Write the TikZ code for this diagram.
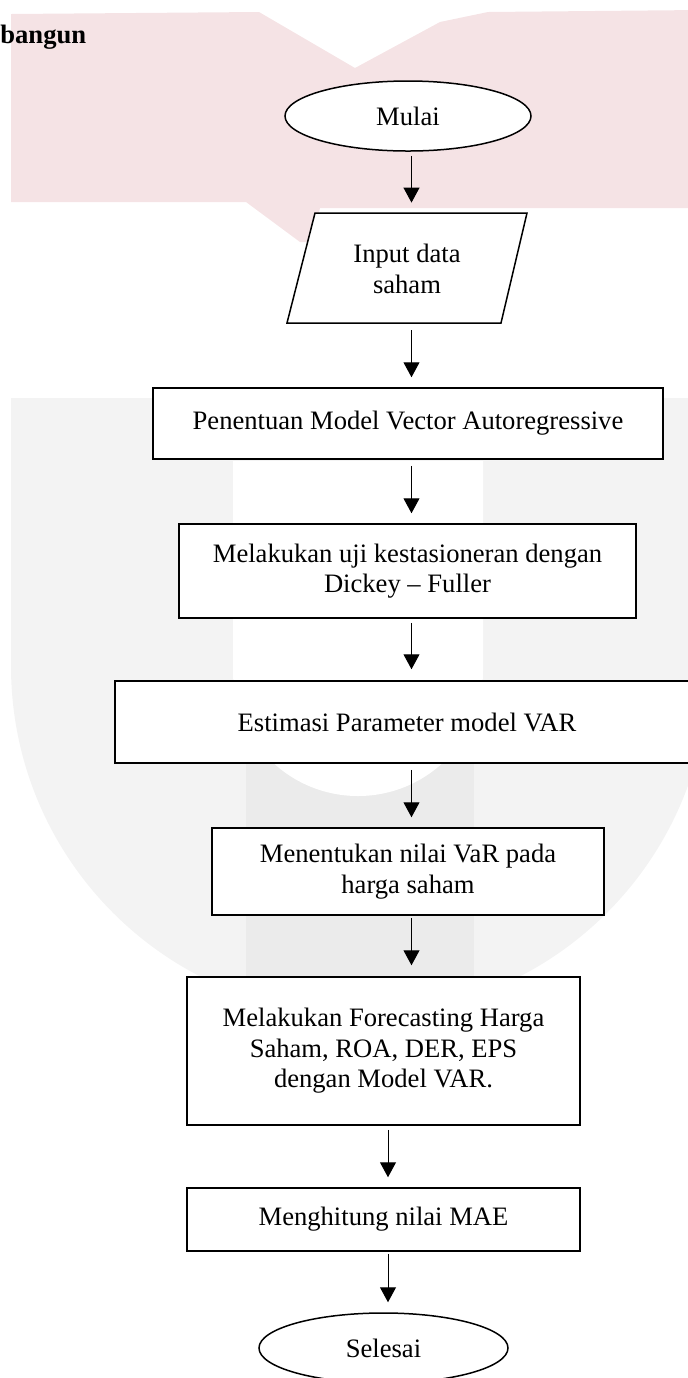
\documentclass[tikz,border=0pt]{standalone}
\usepackage{fontspec}
\setmainfont{Liberation Serif}
\usetikzlibrary{shapes.geometric,arrows.meta}
\definecolor{wmpink}{RGB}{245,227,229}
\definecolor{wmgray}{RGB}{243,243,243}
\definecolor{wmgrayd}{RGB}{235,235,235}
\begin{document}
\begin{tikzpicture}[x=0.5pt,y=-0.5pt,
  txt/.style={font=\fontsize{13.3}{15.3}\selectfont, align=center},
  procbox/.style={txt, draw, line width=0.75pt, fill=white, inner sep=0pt},
  term/.style={txt, ellipse, draw, line width=0.75pt, fill=white, inner sep=0pt},
  arr/.style={line width=0.5pt, -{Triangle[length=7.5pt,width=8pt]}}]
\useasboundingbox (0,0) rectangle (688,1378);
% watermark
\fill[wmpink] (11,14) -- (259,12) -- (355,68) -- (440,22) -- (488,12) -- (700,10) -- (700,208) -- (320,208) -- (312,242) -- (300,242) -- (246,202) -- (11,202) -- cycle;
\fill[wmgray] (11,398) -- (709,398) -- (709,666) .. controls (709,859) and (553,1015) .. (360,1015) .. controls (167,1015) and (11,859) .. (11,666) -- cycle;
\fill[wmgrayd] (246,671) rectangle (474,1015);
\fill[white] (233,461) -- (483,461) -- (483,671) .. controls (483,740) and (427,796) .. (358,796) .. controls (289,796) and (233,740) .. (233,671) -- cycle;
% title fragment
\node[font=\bfseries\fontsize{13.3}{15.3}\selectfont, anchor=base west, inner sep=0pt] (title) at (0,43) {bangun};
% flowchart
\node[term, minimum width=123pt, minimum height=35pt] (mulai) at (408,116) {Mulai};
\filldraw[fill=white, line width=0.75pt] (315,213) -- (527,213) -- (501,323) -- (287,323) -- cycle;
\node[txt, inner sep=0pt, minimum width=121pt, minimum height=55pt] (input) at (407,269) {Input data\\saham};
\node[procbox, minimum width=255pt, minimum height=35.5pt] (penentuan) at (408,423.5) {Penentuan Model Vector Autoregressive};
\node[procbox, minimum width=228.5pt, minimum height=47pt] (uji) at (407.5,571) {Melakukan uji kestasioneran dengan\\Dickey – Fuller};
\node[procbox, minimum width=292pt, minimum height=41pt] (estimasi) at (407,722) {Estimasi Parameter model VAR};
\node[procbox, minimum width=196pt, minimum height=43.5pt] (var) at (408,871.5) {Menentukan nilai VaR pada\\harga saham};
\node[procbox, minimum width=196.5pt, minimum height=74pt] (forecast) at (383.5,1051) {Melakukan Forecasting Harga\\Saham, ROA, DER, EPS\\dengan Model VAR.};
\node[procbox, minimum width=196.5pt, minimum height=31.5pt] (mae) at (383.5,1219.5) {Menghitung nilai MAE};
\node[term, minimum width=124.5pt, minimum height=35pt] (selesai) at (383.5,1348) {Selesai};
% connectors
\draw[arr] ([shift={(3.5,4)}]mulai.south) -- ([shift={(4.5,-11)}]input.north);
\draw[arr] ([shift={(4.5,6)}]input.south) -- ([shift={(3.5,-10)}]penentuan.north);
\draw[arr] ([shift={(3.5,6)}]penentuan.south) -- ([shift={(4,-10)}]uji.north);
\draw[arr] ([shift={(4,4)}]uji.south) -- ([shift={(4.5,-11)}]estimasi.north);
\draw[arr] ([shift={(4.5,6)}]estimasi.south) -- ([shift={(3.5,-10)}]var.north);
\draw[arr] ([shift={(3.5,2)}]var.south) -- ([shift={(28,-11)}]forecast.north);
\draw[arr] ([shift={(4.5,4)}]forecast.south) -- ([shift={(4.5,-10)}]mae.north);
\draw[arr] ([shift={(4.5,2)}]mae.south) -- ([shift={(4.5,-10)}]selesai.north);
\end{tikzpicture}
\end{document}
